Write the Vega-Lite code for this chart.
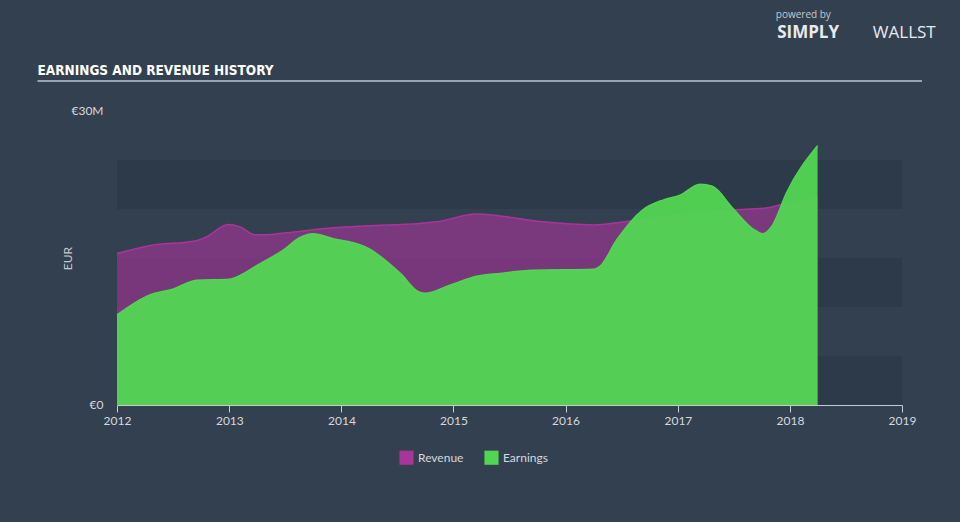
{
  "$schema": "https://vega.github.io/schema/vega-lite/v6.json",
  "width": 785,
  "height": 294,
  "autosize": {"type": "none"},
  "padding": {"left": 117, "top": 111, "right": 58, "bottom": 117},
  "background": "#334050",
  "config": {
    "view": {"stroke": null},
    "font": "Lato",
    "axis": {"labelFont": "Lato", "titleFont": "Lato"},
    "legend": {"labelFont": "Lato"}
  },
  "datasets": {
    "bands": [
      {"start": "2012-01-01", "end": "2019-01-01", "lo": 0, "hi": 5},
      {"start": "2012-01-01", "end": "2019-01-01", "lo": 10, "hi": 15},
      {"start": "2012-01-01", "end": "2019-01-01", "lo": 20, "hi": 25}
    ],
    "series": [
      {"date": "2012-01-01", "series": "Revenue", "value": 15.45},
      {"date": "2012-04-15", "series": "Revenue", "value": 16.26},
      {"date": "2012-09-16", "series": "Revenue", "value": 16.77},
      {"date": "2012-10-19", "series": "Revenue", "value": 17.17},
      {"date": "2012-12-28", "series": "Revenue", "value": 18.43},
      {"date": "2013-02-05", "series": "Revenue", "value": 18.18},
      {"date": "2013-03-25", "series": "Revenue", "value": 17.37},
      {"date": "2013-04-30", "series": "Revenue", "value": 17.37},
      {"date": "2013-07-05", "series": "Revenue", "value": 17.57},
      {"date": "2013-12-05", "series": "Revenue", "value": 18.08},
      {"date": "2014-03-25", "series": "Revenue", "value": 18.28},
      {"date": "2014-09-12", "series": "Revenue", "value": 18.53},
      {"date": "2014-11-06", "series": "Revenue", "value": 18.69},
      {"date": "2015-03-18", "series": "Revenue", "value": 19.49},
      {"date": "2015-06-02", "series": "Revenue", "value": 19.29},
      {"date": "2015-10-20", "series": "Revenue", "value": 18.69},
      {"date": "2016-04-01", "series": "Revenue", "value": 18.38},
      {"date": "2016-08-06", "series": "Revenue", "value": 18.79},
      {"date": "2017-01-01", "series": "Revenue", "value": 19.39},
      {"date": "2017-06-28", "series": "Revenue", "value": 19.9},
      {"date": "2017-10-15", "series": "Revenue", "value": 20.1},
      {"date": "2017-11-28", "series": "Revenue", "value": 20.4},
      {"date": "2018-04-01", "series": "Revenue", "value": 21.11},
      {"date": "2012-01-01", "series": "Earnings", "value": 9.19},
      {"date": "2012-04-15", "series": "Earnings", "value": 11.21},
      {"date": "2012-07-01", "series": "Earnings", "value": 11.82},
      {"date": "2012-09-16", "series": "Earnings", "value": 12.73},
      {"date": "2013-01-01", "series": "Earnings", "value": 12.83},
      {"date": "2013-02-05", "series": "Earnings", "value": 13.23},
      {"date": "2013-04-01", "series": "Earnings", "value": 14.24},
      {"date": "2013-06-28", "series": "Earnings", "value": 15.86},
      {"date": "2013-08-18", "series": "Earnings", "value": 17.07},
      {"date": "2013-10-01", "series": "Earnings", "value": 17.47},
      {"date": "2013-12-05", "series": "Earnings", "value": 16.97},
      {"date": "2014-02-09", "series": "Earnings", "value": 16.56},
      {"date": "2014-03-25", "series": "Earnings", "value": 16.06},
      {"date": "2014-07-12", "series": "Earnings", "value": 13.43},
      {"date": "2014-09-12", "series": "Earnings", "value": 11.51},
      {"date": "2014-10-04", "series": "Earnings", "value": 11.41},
      {"date": "2014-12-20", "series": "Earnings", "value": 12.22},
      {"date": "2015-03-18", "series": "Earnings", "value": 13.13},
      {"date": "2015-06-02", "series": "Earnings", "value": 13.43},
      {"date": "2015-09-16", "series": "Earnings", "value": 13.74},
      {"date": "2016-04-01", "series": "Earnings", "value": 13.84},
      {"date": "2016-04-22", "series": "Earnings", "value": 14.14},
      {"date": "2016-06-16", "series": "Earnings", "value": 16.87},
      {"date": "2016-09-08", "series": "Earnings", "value": 19.9},
      {"date": "2016-11-13", "series": "Earnings", "value": 20.91},
      {"date": "2017-01-08", "series": "Earnings", "value": 21.41},
      {"date": "2017-03-14", "series": "Earnings", "value": 22.52},
      {"date": "2017-04-23", "series": "Earnings", "value": 22.32},
      {"date": "2017-06-28", "series": "Earnings", "value": 20.1},
      {"date": "2017-09-02", "series": "Earnings", "value": 17.98},
      {"date": "2017-10-04", "series": "Earnings", "value": 17.47},
      {"date": "2017-11-06", "series": "Earnings", "value": 18.38},
      {"date": "2017-12-20", "series": "Earnings", "value": 21.61},
      {"date": "2018-04-01", "series": "Earnings", "value": 26.46}
    ],
    "deco": [
      {"x": "2011-04-17", "x2": "2019-03-07", "y": 33.06}
    ],
    "texts": [
      {"x": "2011-04-17", "y": 33.67, "t": "EARNINGS AND REVENUE HISTORY", "kind": "title"},
      {"x": "2017-11-16", "y": 39.45, "t": "powered by", "kind": "small"},
      {"x": "2018-06-10", "y": 37.45, "t": "SIMPLY", "kind": "bold"},
      {"x": "2018-09-28", "y": 37.45, "t": "WALLST", "kind": "light"}
    ]
  },
  "layer": [
    {
      "data": {"name": "bands"},
      "mark": {"type": "rect", "color": "#2d3a4a"},
      "encoding": {
        "x": {
          "field": "start", "type": "temporal",
          "scale": {"domain": [{"year": 2012, "month": 1, "date": 1}, {"year": 2019, "month": 1, "date": 1}], "nice": false},
          "axis": {
            "title": null, "grid": false, "format": "%Y",
            "tickCount": {"interval": "year", "step": 1},
            "domainColor": "#c5cbd3", "domainWidth": 1,
            "tickColor": "#c5cbd3", "tickSize": 7,
            "labelColor": "#d5d9de", "labelFontSize": 12, "labelPadding": 3,
            "labelFlush": false
          }
        },
        "x2": {"field": "end"},
        "y": {
          "field": "lo", "type": "quantitative",
          "scale": {"domain": [0, 30], "nice": false, "zero": true},
          "axis": {
            "title": "EUR", "values": [0, 30], "grid": false, "ticks": false, "domain": false,
            "labelExpr": "datum.value == 0 ? '€0' : '€' + datum.value + 'M'",
            "labelColor": "#d5d9de", "labelFontSize": 12, "labelPadding": 14, "labelOffset": -1,
            "titleColor": "#c5cbd3", "titleFontSize": 12, "titleFontWeight": "normal", "titlePadding": -4
          }
        },
        "y2": {"field": "hi"}
      }
    },
    {
      "data": {"name": "series"},
      "transform": [{"filter": "datum.series == 'Revenue'"}],
      "mark": {"type": "area", "interpolate": "monotone", "fillOpacity": 0.62, "line": {"strokeWidth": 1.5}},
      "encoding": {
        "x": {"field": "date", "type": "temporal"},
        "y": {"field": "value", "type": "quantitative", "stack": null},
        "color": {
          "field": "series", "type": "nominal",
          "scale": {"domain": ["Revenue", "Earnings"], "range": ["#a8359a", "#52d652"]},
          "legend": {
            "title": null, "orient": "none", "direction": "horizontal",
            "legendX": 282, "legendY": 339,
            "symbolType": "square", "symbolSize": 200, "symbolOpacity": 1, "symbolStrokeWidth": 0,
            "labelColor": "#d5d9de", "labelFontSize": 12, "columnPadding": 20
          }
        }
      }
    },
    {
      "data": {"name": "series"},
      "transform": [{"filter": "datum.series == 'Earnings'"}],
      "mark": {"type": "area", "interpolate": "monotone", "fillOpacity": 0.95, "line": {"strokeWidth": 1.5}},
      "encoding": {
        "x": {"field": "date", "type": "temporal"},
        "y": {"field": "value", "type": "quantitative", "stack": null},
        "color": {"field": "series", "type": "nominal"}
      }
    },
    {
      "data": {"name": "deco"},
      "mark": {"type": "rule", "color": "#9aa4b0", "strokeWidth": 2},
      "encoding": {
        "x": {"field": "x", "type": "temporal"},
        "x2": {"field": "x2"},
        "y": {"field": "y", "type": "quantitative"}
      }
    },
    {
      "data": {"name": "texts"},
      "transform": [{"filter": "datum.kind == 'title'"}],
      "mark": {"type": "text", "align": "left", "baseline": "alphabetic", "fontSize": 13.5, "fontWeight": "bold", "color": "#ffffff", "font": "'Liberation Sans Narrow', 'DejaVu Sans Condensed', sans-serif"},
      "encoding": {
        "x": {"field": "x", "type": "temporal"},
        "y": {"field": "y", "type": "quantitative"},
        "text": {"field": "t"}
      }
    },
    {
      "data": {"name": "texts"},
      "transform": [{"filter": "datum.kind == 'small'"}],
      "mark": {"type": "text", "align": "left", "baseline": "alphabetic", "fontSize": 10, "color": "#c4c9cf", "font": "Open Sans"},
      "encoding": {
        "x": {"field": "x", "type": "temporal"},
        "y": {"field": "y", "type": "quantitative"},
        "text": {"field": "t"}
      }
    },
    {
      "data": {"name": "texts"},
      "transform": [{"filter": "datum.kind == 'bold'"}],
      "mark": {"type": "text", "align": "right", "baseline": "alphabetic", "fontSize": 17, "fontWeight": "bold", "color": "#e8eaed", "font": "Open Sans"},
      "encoding": {
        "x": {"field": "x", "type": "temporal"},
        "y": {"field": "y", "type": "quantitative"},
        "text": {"field": "t"}
      }
    },
    {
      "data": {"name": "texts"},
      "transform": [{"filter": "datum.kind == 'light'"}],
      "mark": {"type": "text", "align": "left", "baseline": "alphabetic", "fontSize": 17, "color": "#e8eaed", "font": "Open Sans"},
      "encoding": {
        "x": {"field": "x", "type": "temporal"},
        "y": {"field": "y", "type": "quantitative"},
        "text": {"field": "t"}
      }
    }
  ]
}
